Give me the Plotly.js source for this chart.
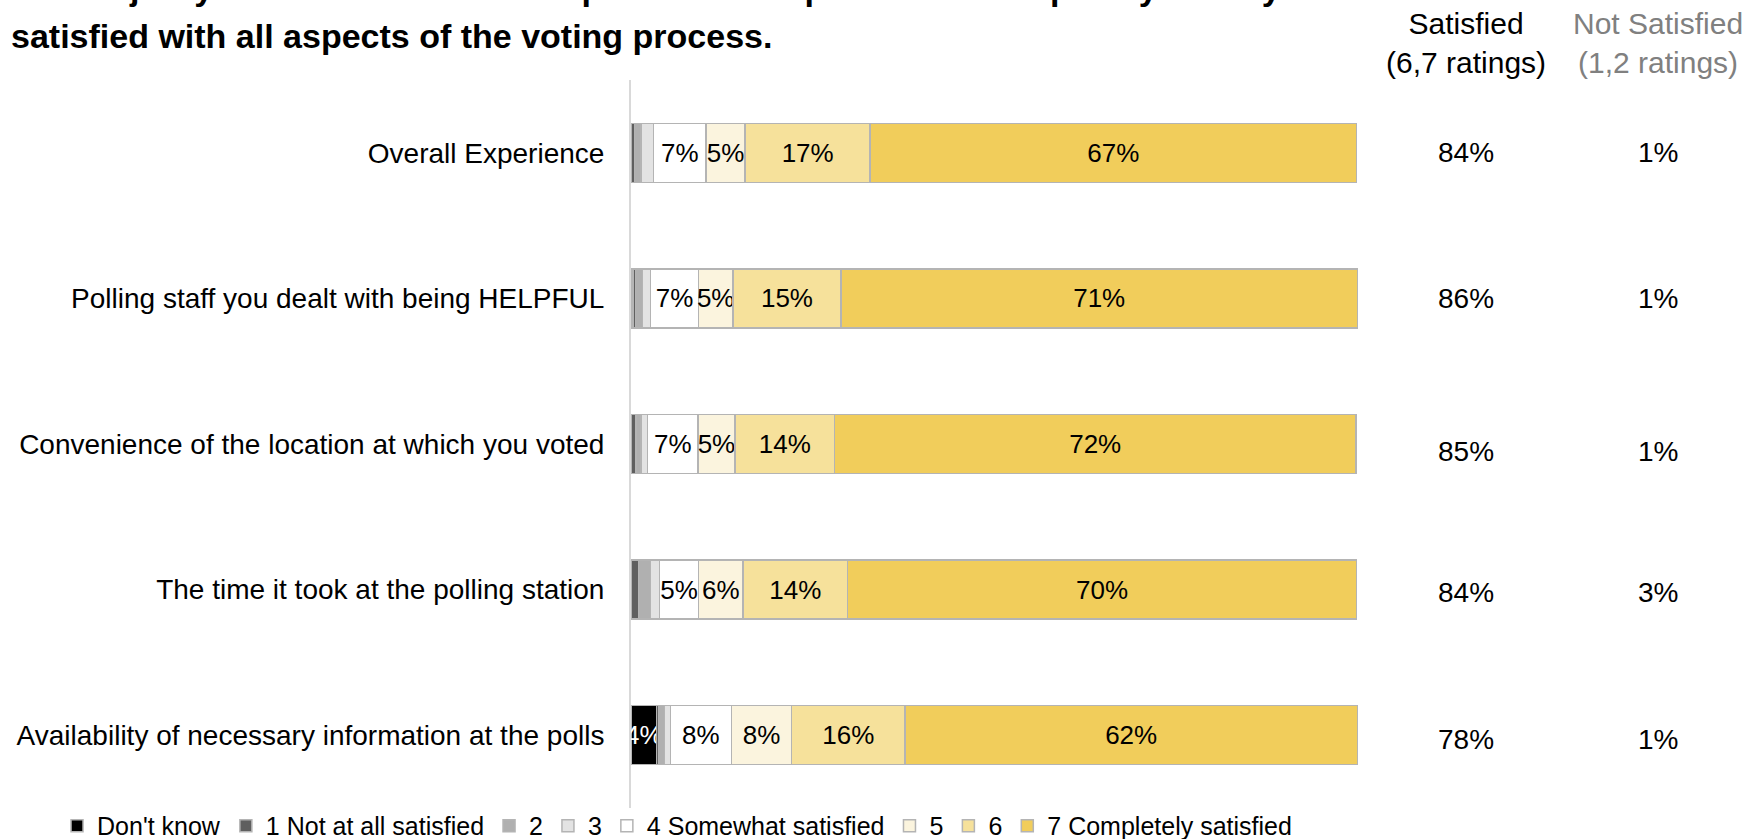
<!DOCTYPE html>
<html>
<head>
<meta charset="utf-8">
<script src="https://cdn.plot.ly/plotly-3.0.1.min.js"></script>
<style>
  html, body { margin: 0; padding: 0; background: #ffffff; }
  #chart { width: 1745px; height: 839px; }
</style>
</head>
<body>
<div id="chart"></div>
<script>
// ---- Data ----
const categories = [
  "Overall Experience",
  "Polling staff you dealt with being HELPFUL",
  "Convenience of the location at which you voted",
  "The time it took at the polling station",
  "Availability of necessary information at the polls"
];
const seriesNames = [
  "Don't know",
  "1 Not at all satisfied",
  "2",
  "3",
  "4 Somewhat satisfied",
  "5",
  "6",
  "7 Completely satisfied"
];
const dontKnow      = [0.0, 0.3, 0.0, 0.0, 3.5];
const rating1       = [0.5, 0.3, 0.7, 1.0, 0.3];
const rating2       = [0.9, 1.0, 0.7, 1.7, 0.8];
const rating3       = [1.7, 1.1, 0.9, 1.2, 0.8];
const rating4       = [7.2, 6.6, 6.9, 5.4, 8.4];
const rating5       = [5.4, 4.7, 5.1, 6.1, 8.3];
const rating6       = [17.2, 14.9, 13.7, 14.4, 15.6];
const rating7       = [66.9, 71.0, 71.7, 70.0, 62.2];
const satisfiedPct    = [84, 86, 85, 84, 78];
const notSatisfiedPct = [1, 1, 1, 3, 1];

const titleLine1 = "The majority of those who voted in person at the polls were completely or very";
const titleLine2 = "satisfied with all aspects of the voting process.";

// ---- Styling ----
const seriesValues = [dontKnow, rating1, rating2, rating3, rating4, rating5, rating6, rating7];
const fillColors = ["#000000", "#5f5f5f", "#b0b0b0", "#e3e3e3", "#ffffff", "#fbf4de", "#f6e19b", "#f1cd5b"];
const textColors = ["#ffffff", "#000000", "#000000", "#000000", "#000000", "#000000", "#000000", "#000000"];
const valueYShift = [0, 0, -7, -3, -4];
const FONT = "'Liberation Sans', Arial, sans-serif";

const traces = seriesValues.map((vals, i) => ({
  type: "bar",
  orientation: "h",
  name: seriesNames[i],
  y: categories,
  x: vals,
  text: vals.map(v => v >= 3 ? Math.round(v) + "%" : ""),
  textposition: "inside",
  insidetextanchor: "middle",
  textangle: 0,
  constraintext: "none",
  cliponaxis: false,
  insidetextfont: { family: FONT, size: 26, color: textColors[i] },
  marker: { color: fillColors[i], line: { color: "#b4b4b4", width: 1.5 } },
  hoverinfo: "name+x"
}));

const annotations = [];
// Title (first line falls above the top edge, as in the reference)
annotations.push({
  xref: "paper", yref: "paper",
  x: -0.8556, y: 1.1264,
  xanchor: "left", yanchor: "middle", align: "left",
  showarrow: false,
  text: "<b>" + titleLine1 + "</b>",
  font: { family: FONT, size: 34, color: "#000000" }
});
annotations.push({
  xref: "paper", yref: "paper",
  x: -0.8556, y: 1.0604,
  xanchor: "left", yanchor: "middle", align: "left",
  showarrow: false,
  text: "<b>" + titleLine2 + "</b>",
  font: { family: FONT, size: 34, color: "#000000" }
});
// Column headers
annotations.push({
  xref: "paper", yref: "paper", x: 1.1486, y: 1.0512,
  xanchor: "center", yanchor: "middle", align: "center", showarrow: false,
  text: "Satisfied<br>(6,7 ratings)",
  font: { family: FONT, size: 30, color: "#000000" }
});
annotations.push({
  xref: "paper", yref: "paper", x: 1.4127, y: 1.0512,
  xanchor: "center", yanchor: "middle", align: "center", showarrow: false,
  text: "Not Satisfied<br>(1,2 ratings)",
  font: { family: FONT, size: 30, color: "#808080" }
});
// Column values
categories.forEach((c, i) => {
  annotations.push({
    xref: "paper", yref: "y", x: 1.1486, y: c, yshift: valueYShift[i],
    xanchor: "center", yanchor: "middle", showarrow: false,
    text: satisfiedPct[i] + "%",
    font: { family: FONT, size: 28, color: "#000000" }
  });
  annotations.push({
    xref: "paper", yref: "y", x: 1.4127, y: c, yshift: valueYShift[i],
    xanchor: "center", yanchor: "middle", showarrow: false,
    text: notSatisfiedPct[i] + "%",
    font: { family: FONT, size: 28, color: "#000000" }
  });
});

const layout = {
  width: 1745, height: 839,
  margin: { l: 631, r: 387, t: 80, b: 31, autoexpand: false },
  paper_bgcolor: "#ffffff", plot_bgcolor: "#ffffff",
  barmode: "stack",
  bargap: 0.595,
  showlegend: true,
  legend: {
    orientation: "h",
    x: -0.7895, xanchor: "left",
    y: -0.0247, yanchor: "middle",
    traceorder: "normal",
    font: { family: FONT, size: 25, color: "#000000" },
    itemwidth: 30,
    bgcolor: "rgba(0,0,0,0)"
  },
  xaxis: {
    range: [0, 100], showgrid: false, zeroline: false,
    showticklabels: false, ticks: "", showline: false, fixedrange: true
  },
  yaxis: {
    type: "category",
    categoryorder: "array", categoryarray: categories,
    autorange: "reversed",
    showgrid: false, zeroline: false,
    showline: true, linecolor: "#d9d9d9", linewidth: 2,
    ticks: "", ticklabelstandoff: 19,
    tickfont: { family: FONT, size: 28, color: "#000000" }
  },
  annotations: annotations
};

Plotly.newPlot("chart", traces, layout, { displayModeBar: false, staticPlot: false });
</script>
</body>
</html>
